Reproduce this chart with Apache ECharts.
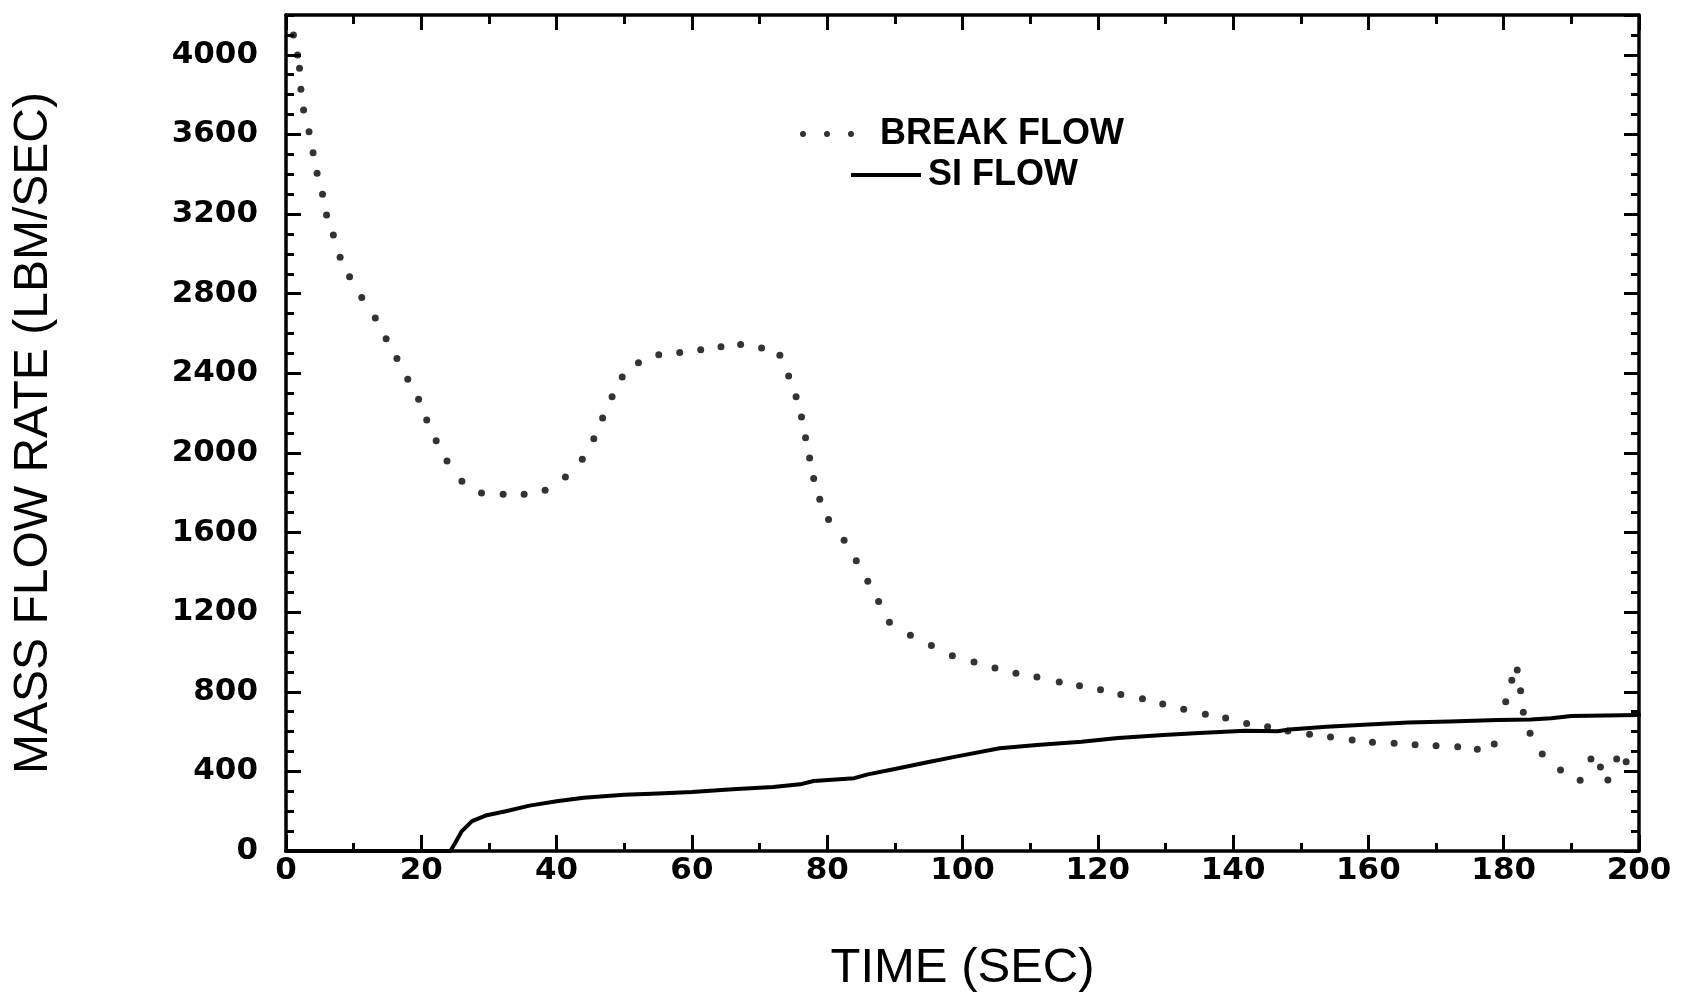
<!DOCTYPE html>
<html>
<head>
<meta charset="utf-8">
<script src="https://cdn.jsdelivr.net/npm/echarts@6/dist/echarts.min.js"></script>
<style>
  html, body { margin: 0; padding: 0; background: #ffffff; }
  #chart { width: 1683px; height: 1004px; }
</style>
</head>
<body>
<div id="chart"></div>
<script>
// ---- Data (time in SEC, mass flow rate in LBM/SEC) ----
const seriesNames = ['BREAK FLOW', 'SI FLOW'];

const breakFlow = [
  [1.1,4099],[1.7,3999],[2.0,3932],[2.2,3827],[2.6,3723],[3.4,3614],[4.0,3508],[4.6,3405],
  [5.4,3299],[6.0,3195],[7.0,3095],[8.0,2983],[9.4,2885],[11.2,2781],[13.2,2678],[14.8,2574],
  [16.4,2474],[18.0,2370],[19.6,2269],[20.8,2165],[22.2,2061],[23.8,1959],[26.0,1857],[28.9,1799],
  [32.1,1792],[35.2,1792],[38.3,1812],[41.3,1879],[43.8,1968],[45.5,2071],[46.8,2175],[48.2,2282],
  [49.7,2381],[52.1,2453],[55.1,2493],[58.2,2505],[61.3,2518],[64.3,2533],[67.2,2545],[70.3,2527],
  [73.0,2490],[74.3,2386],[75.4,2282],[76.2,2180],[76.8,2076],[77.4,1974],[78.0,1872],[78.9,1767],
  [80.2,1665],[82.5,1561],[84.3,1458],[86.0,1355],[87.6,1253],[89.2,1149],[92.3,1084],[95.4,1033],
  [98.5,981],[101.7,950],[104.8,919],[107.9,893],[111.0,874],[114.3,849],[117.3,830],[120.4,810],
  [123.4,786],[126.6,765],[129.6,739],[132.7,712],[135.9,687],[138.9,668],[142.0,641],[145.1,624],
  [148.1,603],[151.3,586],[154.4,573],[157.6,558],[160.6,546],[163.8,541],[166.9,534],[170.0,529],
  [173.2,524],[176.1,511],[178.6,538],[180.3,750],[181.2,858],[182.0,909],[182.5,805],[182.9,697],
  [183.9,591],[185.7,487],[188.4,407],[191.3,355],[192.9,462],[194.3,422],[195.4,357],[196.7,462],
  [198.1,449]
];

const siFlow = [
  [0,0],[24.3,0],[25.0,40],[26.0,100],[27.5,150],[29.5,178],[32.5,200],[36,228],[40,250],
  [44,268],[50,282],[55,289],[60,296],[66,310],[72,322],[76,335],[78,352],[84,366],[86,385],
  [90,412],[95,447],[99,474],[105.5,516],[111,532],[117.6,549],[123,568],[129.7,583],[135,593],
  [141.8,604],[146.6,602],[148.3,611],[153.8,624],[160,636],[165.9,645],[172,651],[179.1,658],
  [184,661],[187,667],[190,678],[200,683]
];

const xRange = [0, 200];
const yRange = [0, 4200];
const xMajor = 20, xMinor = 10;
const yMajor = 400, yMinor = 100;

// ---- Chart ----
const chart = echarts.init(document.getElementById('chart'), null, { renderer: 'canvas' });
const INK = '#000000';
const labelFont = { fontFamily: 'DejaVu Sans', fontWeight: 'bold', fontSize: 31, color: INK };
const titleFont = { fontFamily: 'Liberation Sans', fontWeight: 'normal', fontSize: 49, color: INK };

function xAx(pos, interval, tickLen, showLine, showLabel, extra) {
  return Object.assign({
    type: 'value', position: pos, min: xRange[0], max: xRange[1], interval: interval,
    axisLine: { show: showLine, onZero: false, lineStyle: { color: INK, width: 3.5 } },
    axisTick: { show: true, inside: true, length: tickLen, lineStyle: { color: INK, width: 3 } },
    axisLabel: { show: showLabel },
    splitLine: { show: false }
  }, extra || {});
}
function yAx(pos, interval, tickLen, showLine, showLabel, extra) {
  return Object.assign({
    type: 'value', position: pos, min: yRange[0], max: yRange[1], interval: interval,
    axisLine: { show: showLine, onZero: false, lineStyle: { color: INK, width: 3.5 } },
    axisTick: { show: true, inside: true, length: tickLen, lineStyle: { color: INK, width: 3 } },
    axisLabel: { show: showLabel },
    splitLine: { show: false }
  }, extra || {});
}

const dotsIcon = 'path://M0,3a3,3 0 1,0 6,0a3,3 0 1,0 -6,0Z M24,3a3,3 0 1,0 6,0a3,3 0 1,0 -6,0Z M48,3a3,3 0 1,0 6,0a3,3 0 1,0 -6,0Z';
const plainNumber = v => String(v);

const option = {
  backgroundColor: '#ffffff',
  animation: false,
  grid: { left: 286, right: 44, top: 15, bottom: 153, containLabel: false },
  legend: [
    {
      data: [{ name: seriesNames[0], icon: dotsIcon }],
      left: 795, top: 111,
      itemWidth: 54, itemHeight: 6,
      textStyle: { fontFamily: 'Liberation Sans', fontWeight: 'bold', fontSize: 36, color: INK, padding: [0, 0, 0, 21] }
    },
    {
      data: [{ name: seriesNames[1], icon: 'rect' }],
      left: 846, top: 152,
      itemWidth: 70, itemHeight: 4,
      textStyle: { fontFamily: 'Liberation Sans', fontWeight: 'bold', fontSize: 36, color: INK, padding: [0, 0, 0, 2] }
    }
  ],
  xAxis: [
    xAx('bottom', xMajor, 16, true, true, {
      axisLabel: Object.assign({ show: true, margin: 4, formatter: plainNumber }, labelFont),
      name: 'TIME (SEC)', nameLocation: 'middle', nameGap: 93, nameTextStyle: titleFont
    }),
    xAx('bottom', xMinor, 8, false, false),
    xAx('top', xMajor, 15, true, false),
    xAx('top', xMinor, 9, false, false)
  ],
  yAxis: [
    yAx('left', yMajor, 15, true, true, {
      axisLabel: Object.assign({ show: true, margin: 28, showMaxLabel: false, formatter: plainNumber }, labelFont),
      name: 'MASS FLOW RATE (LBM/SEC)', nameLocation: 'middle', nameGap: 228, nameTextStyle: Object.assign({}, titleFont, { fontSize: 48 })
    }),
    yAx('left', yMinor, 8, false, false),
    yAx('right', yMajor, 15, true, false),
    yAx('right', yMinor, 8, false, false)
  ],
  series: [
    {
      name: seriesNames[0], type: 'scatter', xAxisIndex: 0, yAxisIndex: 0,
      data: breakFlow, symbol: 'circle', symbolSize: 7,
      itemStyle: { color: INK }, emphasis: { disabled: true }, z: 3
    },
    {
      name: seriesNames[1], type: 'line', xAxisIndex: 0, yAxisIndex: 0,
      data: siFlow, showSymbol: false, smooth: false,
      lineStyle: { color: INK, width: 4, join: 'round', cap: 'round' }, itemStyle: { color: INK },
      emphasis: { disabled: true }, z: 2
    }
  ]
};
chart.setOption(option);
</script>
</body>
</html>
